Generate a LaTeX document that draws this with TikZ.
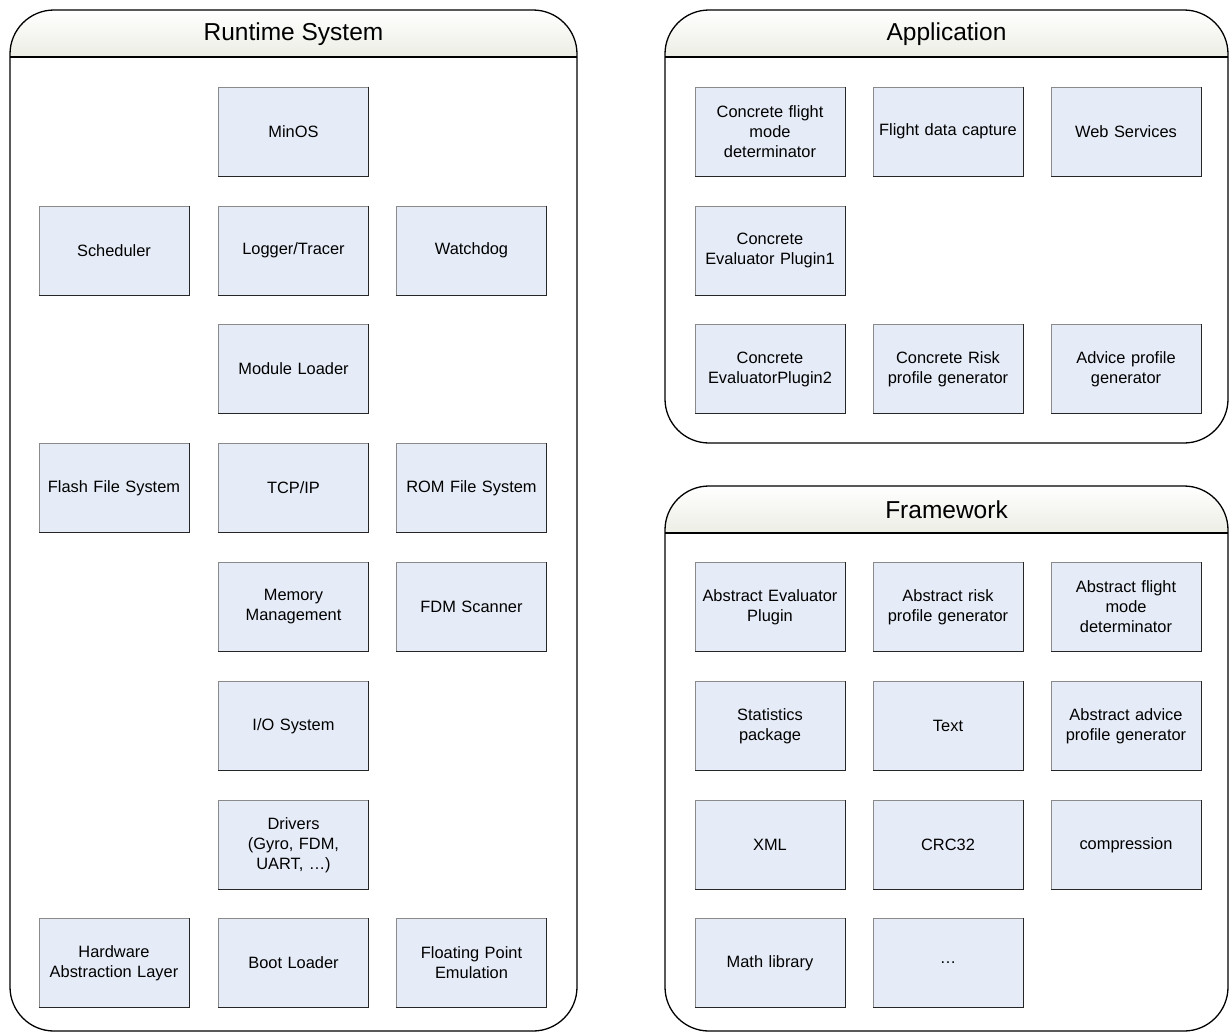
\documentclass[tikz,border=0pt]{standalone}
\usepackage{fontspec}
\setmainfont{Liberation Sans}
\definecolor{boxfill}{HTML}{E6ECF7}
\definecolor{hdrfill}{HTML}{ECEDE4}
\definecolor{boxedge}{HTML}{8A8A8A}
\newcommand\groupframe[6]{%
  % #1..#4 corners, #5 title node name, #6 title text
  \begin{scope}
    \clip[rounded corners=44pt] (#1,#2) rectangle (#3,#4);
    \shade[top color=white,bottom color=hdrfill] (#1,#2) rectangle (#3,{#2+47});
  \end{scope}
  \draw[frame] (#1,{#2+47}) -- (#3,{#2+47});
  \draw[frame,rounded corners=44pt] (#1,#2) rectangle (#3,#4);
  \node[title] (#5) at ({(#1+#3)/2},{#2+24}) {#6};
}
\begin{document}
\begin{tikzpicture}[x=1pt,y=-1pt,
  frame/.style={line width=1.3pt,draw=black},
  title/.style={font=\fontsize{24.5}{28}\selectfont,inner sep=0pt},
  blk/.style={draw=boxedge,fill=boxfill,line width=0.8pt,
    minimum width=149pt,minimum height=89pt,inner sep=2pt,
    text width=146pt,align=center,font=\fontsize{16.4}{20}\selectfont},
  dark/.style={draw=black!85,line width=0.9pt}]
\useasboundingbox (0,0) rectangle (1229,1034);

% containers
\groupframe{10}{10}{577}{1031}{trt}{Runtime System}
\groupframe{665}{10}{1228}{443}{tapp}{Application}
\groupframe{665}{486}{1228}{1031}{tfw}{Framework}

% runtime system
\node[blk] (minos)  at (293.5,131.5) {MinOS};
\node[blk] (sched)  at (114,250.5)   {Scheduler};
\node[blk] (logger) at (293.5,250.5) {Logger/Tracer};
\node[blk] (wdog)   at (471.5,250.5) {Watchdog};
\node[blk] (modld)  at (293.5,369)   {Module Loader};
\node[blk] (ffs)    at (114,488)     {Flash File System};
\node[blk] (tcpip)  at (293.5,488)   {TCP/IP};
\node[blk] (romfs)  at (471.5,488)   {ROM File System};
\node[blk] (memmg)  at (293.5,607)   {Memory\\Management};
\node[blk] (fdmsc)  at (471.5,607)   {FDM Scanner};
\node[blk] (iosys)  at (293.5,726)   {I/O System};
\node[blk] (drv)    at (293.5,845)   {Drivers\\(Gyro, FDM,\\UART, \ldots)};
\node[blk] (hal)    at (114,963)     {Hardware\\Abstraction Layer};
\node[blk] (boot)   at (293.5,963)   {Boot Loader};
\node[blk] (fpemu)  at (471.5,963)   {Floating Point\\Emulation};

% application
\node[blk] (cfmd)   at (770,131.5)  {Concrete flight\\mode\\determinator};
\node[blk] (fdc)    at (948,131.5)  {Flight data capture};
\node[blk] (websv)  at (1126,131.5) {Web Services};
\node[blk] (cep1)   at (770,250.5)  {Concrete\\Evaluator Plugin1};
\node[blk] (cep2)   at (770,369)    {Concrete\\EvaluatorPlugin2};
\node[blk] (crpg)   at (948,369)    {Concrete Risk\\profile generator};
\node[blk] (apg)    at (1126,369)   {Advice profile\\generator};

% framework
\node[blk] (aep)    at (770,607)  {Abstract Evaluator\\Plugin};
\node[blk] (arpg)   at (948,607)  {Abstract risk\\profile generator};
\node[blk] (afmd)   at (1126,607) {Abstract flight\\mode\\determinator};
\node[blk] (stat)   at (770,726)  {Statistics\\package};
\node[blk] (text)   at (948,726)  {Text};
\node[blk] (aapg)   at (1126,726) {Abstract advice\\profile generator};
\node[blk] (xml)    at (770,845)  {XML};
\node[blk] (crc)    at (948,845)  {CRC32};
\node[blk] (compr)  at (1126,845) {compression};
\node[blk] (mathl)  at (770,963)  {Math library};
\node[blk] (etc)    at (948,963)  {\ldots};

% darker right and bottom edges of every box
\foreach \n in {minos,sched,logger,wdog,modld,ffs,tcpip,romfs,memmg,fdmsc,
  iosys,drv,hal,boot,fpemu,cfmd,fdc,websv,cep1,cep2,crpg,apg,
  aep,arpg,afmd,stat,text,aapg,xml,crc,compr,mathl,etc}
  \draw[dark] (\n.north east) -- (\n.south east) -- (\n.south west);
\end{tikzpicture}
\end{document}
